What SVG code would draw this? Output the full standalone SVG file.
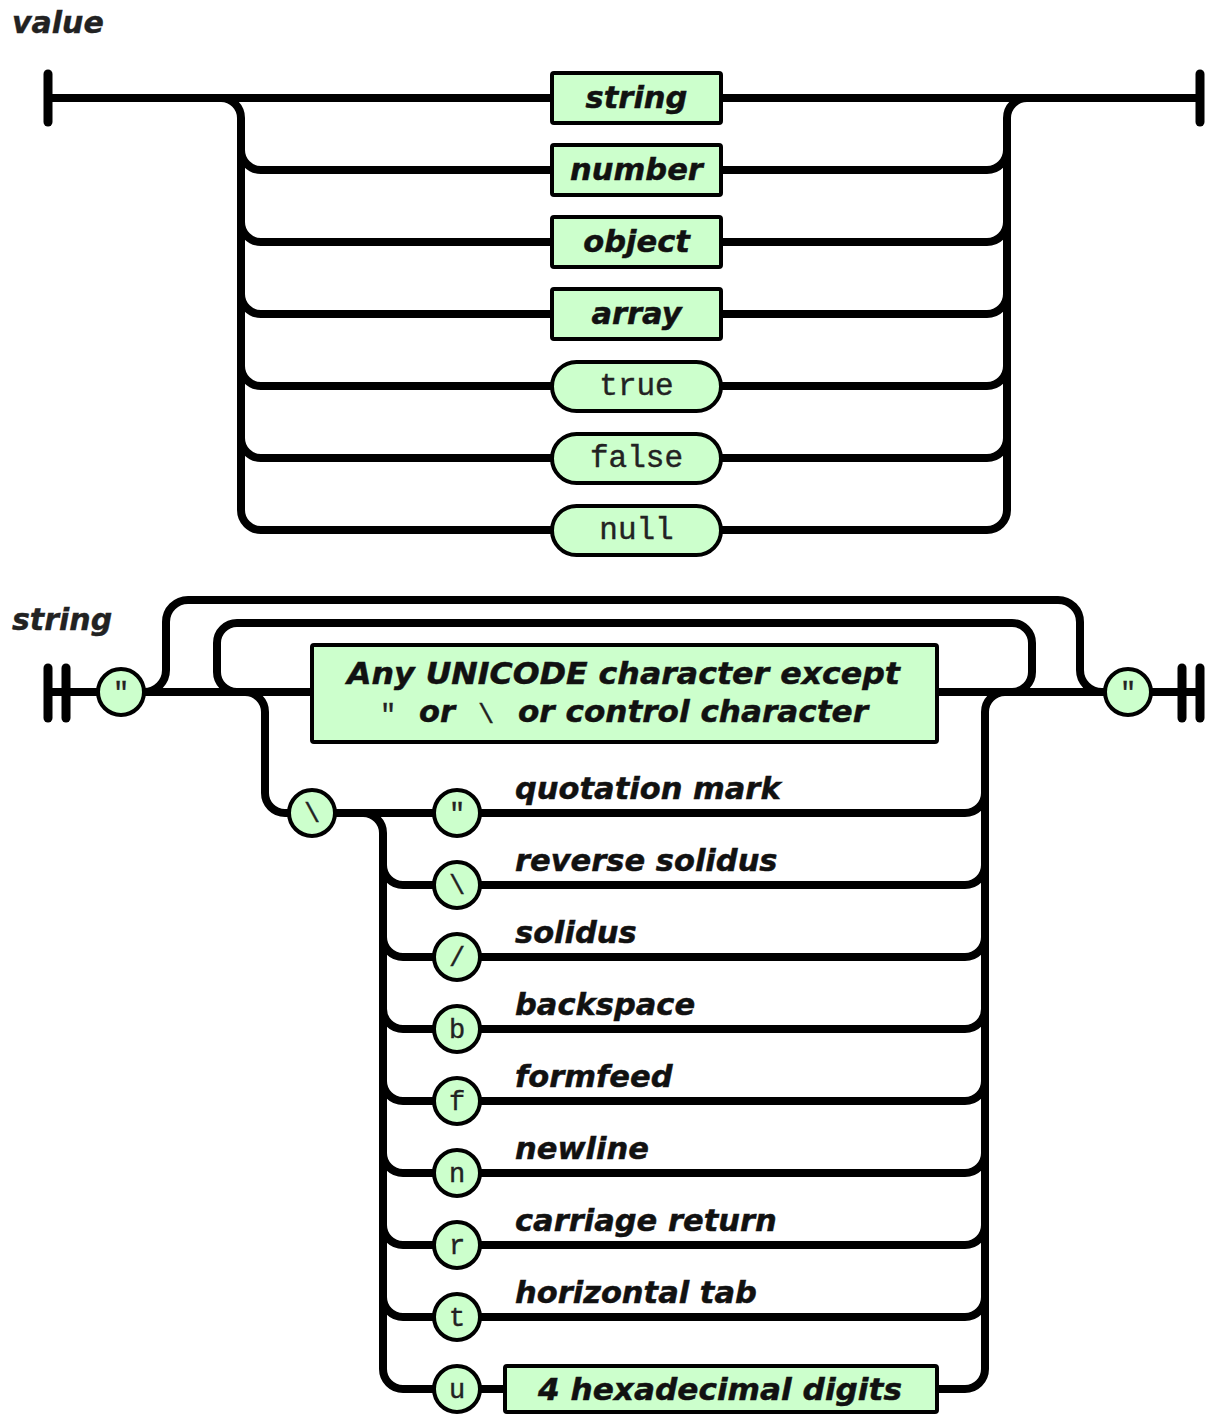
<svg xmlns="http://www.w3.org/2000/svg" width="1213" height="1414" viewBox="0 0 1213 1414">
  <style>
    .wire { fill: none; stroke: #000; stroke-width: 8; stroke-linecap: round; stroke-linejoin: round; }
    .bar { fill: none; stroke: #000; stroke-width: 9; stroke-linecap: round; }
    .box { fill: #ccffcc; stroke: #000; stroke-width: 4; }
    .lit { fill: #ccffcc; stroke: #000; stroke-width: 4; }
    .sans { font-family: "DejaVu Sans", Verdana, sans-serif; font-weight: bold; font-style: italic; font-size: 30.5px; fill: #111; stroke: #111; stroke-width: 0.5; }
    .mono { font-family: "Liberation Mono", "Courier New", monospace; font-size: 31px; fill: #222; stroke: #222; stroke-width: 0.4; }
    .monos { font-family: "Liberation Mono", "Courier New", monospace; font-size: 27px; fill: #222; stroke: #222; stroke-width: 0.4; }
    .title { font-family: "DejaVu Sans", Verdana, sans-serif; font-weight: bold; font-style: italic; font-size: 30px; fill: #222; stroke: #222; stroke-width: 0.4; }
  </style>

  <!-- ===== value ===== -->
  <text class="title" x="12" y="33">value</text>

  <g id="value-connectors">
    <!-- terminals -->
    <line class="bar" x1="48" y1="74" x2="48" y2="122"/>
    <line class="bar" x1="1200" y1="74" x2="1200" y2="122"/>
    <!-- main line -->
    <path class="wire" d="M48 98 L552 98 M721 98 L1200 98"/>
    <!-- left fan-out -->
    <path class="wire" d="M221 98 A20 20 0 0 1 241 118 L241 510 A20 20 0 0 0 261 530 L552 530"/>
    <path class="wire" d="M241 150 A20 20 0 0 0 261 170 L552 170"/>
    <path class="wire" d="M241 222 A20 20 0 0 0 261 242 L552 242"/>
    <path class="wire" d="M241 294 A20 20 0 0 0 261 314 L552 314"/>
    <path class="wire" d="M241 366 A20 20 0 0 0 261 386 L552 386"/>
    <path class="wire" d="M241 438 A20 20 0 0 0 261 458 L552 458"/>
    <!-- right fan-in -->
    <path class="wire" d="M721 530 L987 530 A20 20 0 0 0 1007 510 L1007 118 A20 20 0 0 1 1027 98"/>
    <path class="wire" d="M721 170 L987 170 A20 20 0 0 0 1007 150"/>
    <path class="wire" d="M721 242 L987 242 A20 20 0 0 0 1007 222"/>
    <path class="wire" d="M721 314 L987 314 A20 20 0 0 0 1007 294"/>
    <path class="wire" d="M721 386 L987 386 A20 20 0 0 0 1007 366"/>
    <path class="wire" d="M721 458 L987 458 A20 20 0 0 0 1007 438"/>
  </g>

  <g id="v-string">
    <rect class="box" x="552" y="73" width="169" height="50" rx="2"/>
    <text class="sans" x="636.5" y="108" text-anchor="middle">string</text>
  </g>
  <g id="v-number">
    <rect class="box" x="552" y="145" width="169" height="50" rx="2"/>
    <text class="sans" x="636.5" y="180" text-anchor="middle">number</text>
  </g>
  <g id="v-object">
    <rect class="box" x="552" y="217" width="169" height="50" rx="2"/>
    <text class="sans" x="636.5" y="252" text-anchor="middle">object</text>
  </g>
  <g id="v-array">
    <rect class="box" x="552" y="289" width="169" height="50" rx="2"/>
    <text class="sans" x="636.5" y="324" text-anchor="middle">array</text>
  </g>
  <g id="v-true">
    <rect class="lit" x="552" y="362" width="169" height="49" rx="24.5"/>
    <text class="mono" x="636.5" y="395" text-anchor="middle">true</text>
  </g>
  <g id="v-false">
    <rect class="lit" x="552" y="434" width="169" height="49" rx="24.5"/>
    <text class="mono" x="636.5" y="467" text-anchor="middle">false</text>
  </g>
  <g id="v-null">
    <rect class="lit" x="552" y="506" width="169" height="49" rx="24.5"/>
    <text class="mono" x="636.5" y="539" text-anchor="middle">null</text>
  </g>

  <!-- ===== string ===== -->
  <text class="title" x="12" y="630">string</text>

  <g id="string-connectors">
    <!-- double-bar terminals -->
    <line class="bar" x1="48" y1="668" x2="48" y2="718"/>
    <line class="bar" x1="66" y1="668" x2="66" y2="718"/>
    <line class="bar" x1="1182" y1="668" x2="1182" y2="718"/>
    <line class="bar" x1="1200" y1="668" x2="1200" y2="718"/>
    <!-- main line -->
    <path class="wire" d="M48 692 L312 692 M937 692 L1200 692"/>
    <!-- bypass loop (empty string) -->
    <path class="wire" d="M144 692 A22 22 0 0 0 166 670 L166 622 A22 22 0 0 1 188 600 L1058 600 A22 22 0 0 1 1080 622 L1080 670 A22 22 0 0 0 1102 692"/>
    <!-- repeat loop -->
    <path class="wire" d="M237 692 A20 20 0 0 1 217 672 L217 643 A20 20 0 0 1 237 623 L1012 623 A20 20 0 0 1 1032 643 L1032 672 A20 20 0 0 1 1012 692"/>
    <!-- escape branch down to backslash -->
    <path class="wire" d="M245 692 A20 20 0 0 1 265 712 L265 793 A20 20 0 0 0 285 813 L434 813"/>
    <!-- escape fan-out -->
    <path class="wire" d="M363 813 A20 20 0 0 1 383 833 L383 1369 A20 20 0 0 0 403 1389 L505 1389"/>
    <path class="wire" d="M383 865 A20 20 0 0 0 403 885 L434 885"/>
    <path class="wire" d="M383 937 A20 20 0 0 0 403 957 L434 957"/>
    <path class="wire" d="M383 1009 A20 20 0 0 0 403 1029 L434 1029"/>
    <path class="wire" d="M383 1081 A20 20 0 0 0 403 1101 L434 1101"/>
    <path class="wire" d="M383 1153 A20 20 0 0 0 403 1173 L434 1173"/>
    <path class="wire" d="M383 1225 A20 20 0 0 0 403 1245 L434 1245"/>
    <path class="wire" d="M383 1297 A20 20 0 0 0 403 1317 L434 1317"/>
    <!-- escape fan-in -->
    <path class="wire" d="M937 1389 L965 1389 A20 20 0 0 0 985 1369 L985 712 A20 20 0 0 1 1005 692"/>
    <path class="wire" d="M480 813 L965 813 A20 20 0 0 0 985 793"/>
    <path class="wire" d="M480 885 L965 885 A20 20 0 0 0 985 865"/>
    <path class="wire" d="M480 957 L965 957 A20 20 0 0 0 985 937"/>
    <path class="wire" d="M480 1029 L965 1029 A20 20 0 0 0 985 1009"/>
    <path class="wire" d="M480 1101 L965 1101 A20 20 0 0 0 985 1081"/>
    <path class="wire" d="M480 1173 L965 1173 A20 20 0 0 0 985 1153"/>
    <path class="wire" d="M480 1245 L965 1245 A20 20 0 0 0 985 1225"/>
    <path class="wire" d="M480 1317 L965 1317 A20 20 0 0 0 985 1297"/>
  </g>

  <g id="s-open-quote">
    <circle class="lit" cx="121" cy="692" r="23"/>
    <text class="monos" x="121" y="701" text-anchor="middle">"</text>
  </g>
  <g id="s-close-quote">
    <circle class="lit" cx="1128" cy="692" r="23"/>
    <text class="monos" x="1128" y="701" text-anchor="middle">"</text>
  </g>

  <g id="s-any-char">
    <rect class="box" x="312" y="645" width="625" height="97" rx="2"/>
    <text class="sans" x="347" y="684" textLength="553" lengthAdjust="spacingAndGlyphs">Any UNICODE character except</text>
    <text class="monos" x="388" y="723" text-anchor="middle">"</text>
    <text class="sans" x="437" y="722" text-anchor="middle">or</text>
    <text class="monos" x="486" y="723" text-anchor="middle">\</text>
    <text class="sans" x="518" y="722" textLength="350" lengthAdjust="spacingAndGlyphs">or control character</text>
  </g>

  <g id="s-backslash">
    <circle class="lit" cx="312" cy="813" r="23"/>
    <text class="monos" x="312" y="822" text-anchor="middle">\</text>
  </g>

  <g id="esc-quote">
    <circle class="lit" cx="457" cy="813" r="23"/>
    <text class="monos" x="457" y="822" text-anchor="middle">"</text>
    <text class="sans" x="515" y="799">quotation mark</text>
  </g>
  <g id="esc-reverse-solidus">
    <circle class="lit" cx="457" cy="885" r="23"/>
    <text class="monos" x="457" y="894" text-anchor="middle">\</text>
    <text class="sans" x="515" y="871">reverse solidus</text>
  </g>
  <g id="esc-solidus">
    <circle class="lit" cx="457" cy="957" r="23"/>
    <text class="monos" x="457" y="966" text-anchor="middle">/</text>
    <text class="sans" x="515" y="943">solidus</text>
  </g>
  <g id="esc-b">
    <circle class="lit" cx="457" cy="1029" r="23"/>
    <text class="monos" x="457" y="1038" text-anchor="middle">b</text>
    <text class="sans" x="515" y="1015">backspace</text>
  </g>
  <g id="esc-f">
    <circle class="lit" cx="457" cy="1101" r="23"/>
    <text class="monos" x="457" y="1110" text-anchor="middle">f</text>
    <text class="sans" x="515" y="1087">formfeed</text>
  </g>
  <g id="esc-n">
    <circle class="lit" cx="457" cy="1173" r="23"/>
    <text class="monos" x="457" y="1182" text-anchor="middle">n</text>
    <text class="sans" x="515" y="1159">newline</text>
  </g>
  <g id="esc-r">
    <circle class="lit" cx="457" cy="1245" r="23"/>
    <text class="monos" x="457" y="1254" text-anchor="middle">r</text>
    <text class="sans" x="515" y="1231">carriage return</text>
  </g>
  <g id="esc-t">
    <circle class="lit" cx="457" cy="1317" r="23"/>
    <text class="monos" x="457" y="1326" text-anchor="middle">t</text>
    <text class="sans" x="515" y="1303">horizontal tab</text>
  </g>
  <g id="esc-u">
    <circle class="lit" cx="457" cy="1389" r="23"/>
    <text class="monos" x="457" y="1398" text-anchor="middle">u</text>
  </g>
  <g id="esc-hex">
    <rect class="box" x="505" y="1366" width="432" height="46" rx="2"/>
    <text class="sans" x="538" y="1400" textLength="364" lengthAdjust="spacingAndGlyphs">4 hexadecimal digits</text>
  </g>
</svg>
